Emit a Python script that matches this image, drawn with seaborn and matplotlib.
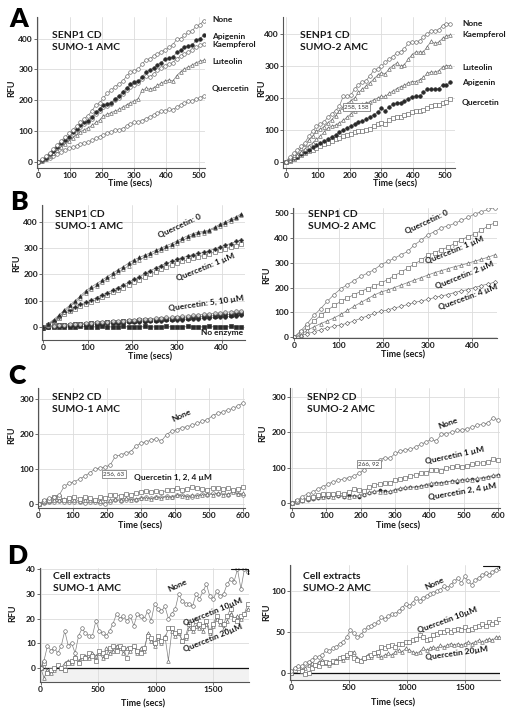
import numpy as np
import pandas as pd
import seaborn as sns
import matplotlib.pyplot as plt

# ---- data ----
t_a = list(range(0, 517, 12))          # panel A time points (secs)
a1_none = [0,8,18,30,42,55,68,80,92,104,116,128,140,150,165,185,190,208,222,232,244,252,262,278,292,296,300,318,330,335,342,350,358,362,372,380,398,400,410,420,425,440,445,458]
a1_apig = [0,6,14,24,36,48,60,70,82,96,108,118,128,134,145,162,172,186,188,192,205,214,228,240,252,258,262,276,290,298,304,315,322,334,336,340,355,362,372,375,378,395,400,410]
a1_kaem = [0,5,13,22,34,46,58,68,78,90,102,112,122,130,140,156,166,178,182,188,200,208,220,232,242,250,256,268,280,276,285,298,306,312,318,322,335,342,350,358,362,372,378,384]
a1_lute = [0,4,10,18,28,38,48,58,68,78,88,98,104,110,118,128,135,150,154,160,165,170,178,185,192,198,205,232,238,236,240,248,256,262,266,262,280,292,302,308,314,322,326,330]
a1_quer = [0,3,8,14,20,26,32,38,44,48,52,58,62,64,70,76,82,88,94,98,102,104,108,116,124,128,130,134,140,146,152,158,164,166,170,168,178,184,190,196,198,204,208,214]

a2_none = [0,15,26,38,48,60,80,95,112,118,125,140,150,160,175,205,205,210,228,242,250,255,270,288,292,300,312,322,330,342,345,355,372,376,376,380,392,402,410,412,415,428,434,434]
a2_kaem = [0,10,20,32,42,55,68,80,95,102,110,122,132,145,158,172,182,192,200,218,228,238,248,260,272,280,276,292,302,310,300,305,322,336,345,345,345,362,378,372,376,388,395,398]
a2_lute = [0,6,14,22,30,40,50,58,70,80,92,105,112,115,122,130,140,150,160,168,180,185,188,195,200,206,205,215,222,230,236,240,248,252,252,258,265,278,282,282,286,298,302,302]
a2_apig = [0,4,10,16,24,30,38,45,52,58,64,70,78,84,92,100,106,112,118,124,128,134,140,148,155,168,160,172,180,185,186,190,198,204,205,206,218,228,228,228,230,242,240,250]
a2_quer = [0,3,8,14,20,26,32,38,44,48,54,58,64,70,74,80,84,88,92,96,96,100,104,112,118,120,118,130,138,140,142,146,150,156,158,160,162,168,176,178,178,184,188,196]

t_b1 = list(range(0, 445, 12))
b1_q0_f = [0,12,28,45,65,82,100,118,138,152,165,178,192,205,218,230,244,256,265,274,282,292,300,310,318,328,338,348,356,362,364,370,380,392,400,412,420,432]
b1_q0_o = [0,10,24,40,58,76,94,112,130,144,156,170,184,196,208,220,234,246,256,266,274,284,292,302,310,320,330,340,350,356,360,366,376,386,394,404,414,426]
b1_q1_f = [0,10,22,38,55,66,76,86,94,102,112,122,130,140,150,160,170,182,190,204,214,224,234,242,250,258,264,270,276,280,284,290,298,304,312,318,326,332]
b1_q1_o = [0,8,20,34,50,60,70,80,88,96,104,114,122,132,140,150,160,170,178,190,200,210,220,228,236,244,250,256,264,268,272,278,286,292,298,304,310,318]
b1_q5_o = [-2,3,5,6,9,10,12,12,15,16,17,19,20,21,23,24,26,27,29,30,32,33,35,36,37,39,40,42,44,46,48,50,52,54,56,57,59,62]
b1_q5_f = [0,2,4,6,7,9,10,11,12,14,15,16,17,18,20,21,22,23,25,26,27,28,29,30,32,33,34,35,37,38,40,41,43,44,46,47,49,52]
b1_q10_f = [-4,0,2,4,5,6,7,8,9,10,11,12,13,14,15,16,17,18,19,20,22,23,24,25,26,27,28,30,31,32,34,35,36,38,39,41,43,45]
b1_noenz = [-3,-1,0,1,0,1,0,2,1,0,1,2,1,0,1,2,1,1,0,2,1,0,1,2,1,0,1,2,1,1,0,2,1,0,1,2,1,0]

t_b2 = list(range(0, 451, 15))
b2_q0 = [0,25,55,88,115,145,172,195,212,228,245,258,272,292,305,318,332,345,372,390,412,425,440,448,458,470,482,496,505,514,522]
b2_q1 = [0,20,42,65,88,108,128,144,158,172,184,196,206,218,232,248,262,278,295,310,330,340,352,362,378,392,405,415,430,448,460]
b2_q2 = [0,10,28,42,55,66,78,92,108,125,140,155,170,182,190,200,210,220,230,240,250,260,268,276,284,290,298,306,314,322,332]
b2_q4 = [0,6,14,22,30,38,44,50,56,66,76,86,96,104,110,118,124,132,140,146,152,160,166,172,180,186,192,200,208,214,222]

t_c = list(range(0, 601, 15))
c1_none = [0,12,18,22,26,52,60,65,72,80,90,100,104,106,112,137,140,146,150,165,174,178,182,186,180,198,208,212,218,220,225,230,236,240,252,258,262,268,272,280,288]
c1_q1 = [0,10,14,22,20,14,18,22,16,20,18,14,20,18,26,28,24,30,28,32,36,38,36,38,34,40,42,48,40,44,50,46,44,42,48,46,44,46,40,44,50]
c1_q2 = [0,6,10,12,14,16,12,14,10,12,14,12,10,14,12,16,14,18,14,16,18,18,16,20,18,22,20,26,24,22,28,24,26,30,28,32,28,30,34,30,32]
c1_q4 = [0,4,8,6,10,8,6,8,6,4,6,8,4,2,8,12,10,14,16,14,18,20,18,22,20,24,22,26,28,24,22,26,30,28,32,30,34,26,38,30,28]

c2_none = [0,8,18,26,30,40,46,54,60,64,68,72,76,84,94,104,112,122,128,126,140,146,150,152,158,166,172,180,175,194,196,200,205,206,210,214,220,222,226,240,236]
c2_q1 = [0,5,10,14,18,22,26,26,26,27,26,30,40,38,34,44,50,54,56,58,64,68,72,76,80,84,86,94,92,90,98,102,104,102,106,110,112,114,116,124,122]
c2_q2 = [0,4,8,12,14,16,18,20,18,22,20,18,20,22,26,30,34,32,30,34,38,42,44,46,44,48,52,56,58,56,60,62,64,66,68,66,70,72,74,78,80]
c2_q4 = [0,2,6,10,12,14,16,18,22,20,18,22,20,18,24,28,32,36,34,32,36,40,42,44,46,48,50,52,56,58,60,62,60,64,66,68,66,70,74,76,78]

t_d = list(range(0, 1801, 30))
d1_none = [0,3,9,7,8,6,9,15,9,10,6,13,16,14,13,13,19,15,14,13,15,18,22,20,21,19,21,17,22,21,20,23,19,26,24,23,25,20,22,24,30,27,26,26,25,30,28,31,34,29,28,31,29,30,34,36,35,40,32,40,39]
d1_q10 = [0,2,-2,-1,0,1,0,-1,2,3,4,2,5,4,6,5,3,7,6,5,8,9,7,9,8,4,8,9,7,6,8,13,12,10,13,11,12,16,16,14,15,11,13,18,16,19,18,17,19,15,18,21,19,18,21,24,20,19,21,22,26]
d1_q20 = [0,-4,-1,-2,-1,1,0,2,3,2,5,3,4,5,4,6,5,6,4,8,6,7,9,8,6,8,7,9,6,8,7,14,11,9,12,10,13,3,15,13,14,11,12,16,15,17,16,15,18,14,17,20,18,16,19,22,20,21,20,22,24]

d2_none = [2,6,8,8,12,14,16,20,19,22,28,27,30,32,36,38,44,52,49,44,46,52,56,58,60,62,68,66,70,72,72,76,80,84,82,86,92,88,92,94,96,98,100,102,106,104,108,112,116,110,118,112,108,114,116,120,122,120,124,126,128]
d2_q10 = [0,4,6,2,-1,0,6,10,8,12,14,12,15,14,18,20,22,24,18,16,15,18,20,22,24,26,32,30,33,34,32,36,36,38,38,40,42,46,44,40,42,46,48,50,50,52,50,52,54,52,56,52,54,56,58,60,58,62,60,62,66]
d2_q20 = [0,6,8,4,6,10,12,10,14,16,12,10,14,16,18,16,20,24,26,18,16,18,22,20,24,22,20,22,24,22,26,28,26,30,28,26,24,26,30,28,30,32,30,34,32,34,36,34,36,34,36,38,36,38,40,38,40,42,40,44,44]

# ---- figure ----
W, H = 512, 717
sns.set_theme(style="whitegrid")
plt.rcParams['font.family'] = ['Lato', 'DejaVu Sans']
fig = plt.figure(figsize=(W / 100, H / 100), dpi=100)


def box(l, t, r, b):
    return [l / W, 1 - b / H, (r - l) / W, (b - t) / H]


def ftxt(x, y, s, **kw):
    kw.setdefault('fontweight', 'bold')
    kw.setdefault('color', '#1a1a1a')
    fig.text(x / W, 1 - y / H, s, **kw)


def series(ax, t, y, marker, filled=False, ms=2.6, fc=None):
    sns.lineplot(x=t, y=y, ax=ax, estimator=None, sort=False, color='#808080',
                 linewidth=0.5, marker=marker, markersize=ms,
                 markerfacecolor=fc or ('#2a2a2a' if filled else 'white'),
                 markeredgecolor='#2a2a2a' if filled else '#606060',
                 markeredgewidth=0.45, legend=False)


def style(ax, xlim, ylim, xt, yt):
    ax.set_xlim(xlim)
    ax.set_ylim(ylim)
    ax.set_xticks(xt)
    ax.set_yticks(yt)
    ax.set_facecolor('white')
    ax.grid(True, color='#dcdcdc', lw=0.6)
    for s in ['top', 'right']:
        ax.spines[s].set_visible(False)
    for s in ['left', 'bottom']:
        ax.spines[s].set_color('#555555')
        ax.spines[s].set_linewidth(0.8)
    ax.tick_params(labelsize=6, length=2, width=0.6, pad=1, bottom=True, left=True,
                   labelcolor='#1a1a1a', color='#555555')
    plt.setp(ax.get_xticklabels() + ax.get_yticklabels(), fontweight='bold')
    ax.set_xlabel('')
    ax.set_ylabel('')


title_kw = dict(fontsize=7.5, va='top', ha='left', linespacing=1.45)
lab_kw = dict(fontsize=6, va='center', ha='left')
rot_kw = dict(fontsize=6, va='center', ha='center', rotation_mode='anchor')
tip_kw = dict(fontsize=4.5, fontweight='normal', ha='center', va='center', color='#333333',
              bbox=dict(boxstyle='square,pad=0.2', fc='white', ec='#666666', lw=0.5))

# ---- A left ----
ax = fig.add_axes(box(37, 17, 205, 168))
series(ax, t_a, a1_quer, 'o')
series(ax, t_a, a1_lute, '^')
series(ax, t_a, a1_kaem, 'o')
series(ax, t_a, a1_apig, 'o', filled=True)
series(ax, t_a, a1_none, 'o')
style(ax, (-3, 520), (-20, 470), range(0, 501, 100), range(0, 401, 100))
for y, s in [(20, 'None'), (36, 'Apigenin'), (45, 'Kaempferol'), (62, 'Luteolin'), (89, 'Quercetin')]:
    ftxt(212, y, s, **lab_kw)
ftxt(52, 31, 'SENP1 CD\nSUMO-1 AMC', **title_kw)

# ---- A right ----
ax = fig.add_axes(box(283, 17, 455, 168))
series(ax, t_a, a2_quer, 's')
series(ax, t_a, a2_apig, 'o', filled=True)
series(ax, t_a, a2_lute, '^')
series(ax, t_a, a2_kaem, '^')
series(ax, t_a, a2_none, 'o')
style(ax, (-9, 531), (-20, 455), range(0, 501, 100), range(0, 401, 100))
for y, s in [(24, 'None'), (34, 'Kaempferol'), (67, 'Luteolin'), (83, 'Apigenin'), (102, 'Quercetin')]:
    ftxt(462, y, s, **lab_kw)
ftxt(300, 31, 'SENP1 CD\nSUMO-2 AMC', **title_kw)
ftxt(356, 107, '258, 158', **tip_kw)

# ---- B left ----
ax = fig.add_axes(box(42, 205, 245, 340))
series(ax, t_b1, b1_noenz, 's', filled=True)
series(ax, t_b1, b1_q10_f, 'o', filled=True)
series(ax, t_b1, b1_q5_f, 's', filled=True)
series(ax, t_b1, b1_q5_o, 'o', fc='#d0d0d0')
series(ax, t_b1, b1_q1_o, 's')
series(ax, t_b1, b1_q1_f, 'P', filled=True)
series(ax, t_b1, b1_q0_o, '^')
series(ax, t_b1, b1_q0_f, '^', filled=True)
style(ax, (-2, 452), (-50, 465), range(0, 401, 100), range(0, 401, 100))
ftxt(55, 210, 'SENP1 CD\nSUMO-1 AMC', **title_kw)
ftxt(180, 226, 'Quercetin: 0', rotation=25, **rot_kw)
ftxt(206, 267, 'Quercetin: 1 µM', rotation=22, **rot_kw)
ftxt(206, 303, 'Quercetin: 5, 10 µM', rotation=8, **rot_kw)
ftxt(222, 333, 'No enzyme', rotation=0, **rot_kw)

# ---- B right ----
ax = fig.add_axes(box(293, 208, 497, 338))
series(ax, t_b2, b2_q4, 'D', ms=2.2)
series(ax, t_b2, b2_q2, '^')
series(ax, t_b2, b2_q1, 's')
series(ax, t_b2, b2_q0, 'o')
style(ax, (-2, 455), (-3, 520), range(0, 401, 100), range(0, 501, 100))
ftxt(308, 210, 'SENP1 CD\nSUMO-2 AMC', **title_kw)
ftxt(427, 222, 'Quercetin: 0', rotation=25, **rot_kw)
ftxt(455, 250, 'Quercetin: 1 µM', rotation=22, **rot_kw)
ftxt(465, 275, 'Quercetin: 2 µM', rotation=22, **rot_kw)
ftxt(468, 297, 'Quercetin: 4 µM', rotation=20, **rot_kw)

# ---- C left ----
ax = fig.add_axes(box(38, 388, 245, 508))
series(ax, t_c, c1_q4, 'o')
series(ax, t_c, c1_q2, '^')
series(ax, t_c, c1_q1, 's')
series(ax, t_c, c1_none, 'o')
style(ax, (-2, 605), (-10, 330), range(0, 601, 100), range(0, 301, 100))
ftxt(52, 393, 'SENP2 CD\nSUMO-1 AMC', **title_kw)
ftxt(182, 415, 'None', rotation=25, **rot_kw)
ftxt(173, 477, 'Quercetin 1, 2, 4 µM', rotation=0, **rot_kw)
ftxt(114, 474, '256, 63', **tip_kw)

# ---- C right ----
ax = fig.add_axes(box(290, 388, 500, 508))
series(ax, t_c, c2_q4, 'o', filled=True, ms=2.2)
series(ax, t_c, c2_q2, '^')
series(ax, t_c, c2_q1, 's')
series(ax, t_c, c2_none, 'o')
style(ax, (-6, 606), (-14, 325), range(0, 601, 100), range(0, 301, 100))
ftxt(307, 393, 'SENP2 CD\nSUMO-2 AMC', **title_kw)
ftxt(448, 423, 'None', rotation=20, **rot_kw)
ftxt(455, 455, 'Quercetin 1 µM', rotation=12, **rot_kw)
ftxt(462, 492, 'Quercetin 2, 4 µM', rotation=10, **rot_kw)
ftxt(369, 464, '266, 92', **tip_kw)

# ---- D left ----
ax = fig.add_axes(box(40, 568, 249, 682))
ax.axhspan(-6, 0, color='#f2f2f2', zorder=0)
ax.axhline(0, color='#111111', lw=0.9)
series(ax, t_d, d1_q20, '^')
series(ax, t_d, d1_q10, 's')
series(ax, t_d, d1_none, 'o')
ax.plot([1650, 1800, 1800], [40, 40, 38], color='#111111', lw=0.8)
style(ax, (-5, 1810), (-5.7, 40.5), [0, 500, 1000, 1500], range(0, 41, 10))
ftxt(53, 572, 'Cell extracts\nSUMO-1 AMC', **title_kw)
ftxt(178, 585, 'None', rotation=25, **rot_kw)
ftxt(213, 612, 'Quercetin 10µM', rotation=22, **rot_kw)
ftxt(213, 638, 'Quercetin 20µM', rotation=22, **rot_kw)

# ---- D right ----
ax = fig.add_axes(box(290, 565, 500, 680))
ax.axhspan(-9, 0, color='#f2f2f2', zorder=0)
ax.axhline(0, color='#111111', lw=0.9)
series(ax, t_d, d2_q20, '^')
series(ax, t_d, d2_q10, 's')
series(ax, t_d, d2_none, 'o')
ax.plot([1660, 1800, 1800], [131, 131, 128], color='#111111', lw=0.8)
style(ax, (-10, 1805), (-8.5, 132), [0, 500, 1000, 1500], [0, 50, 100])
ftxt(303, 572, 'Cell extracts\nSUMO-2 AMC', **title_kw)
ftxt(435, 583, 'None', rotation=25, **rot_kw)
ftxt(447, 620, 'Quercetin 10µM', rotation=20, **rot_kw)
ftxt(457, 653, 'Quercetin 20µM', rotation=8, **rot_kw)

# ---- axis labels and panel letters ----
ax_kw = dict(fontsize=6.5, ha='center', va='center')
for x, y in [(130, 184), (395, 184), (150, 357), (403, 355), (140, 526), (398, 526), (143, 704), (393, 703)]:
    ftxt(x, y, 'Time (secs)', **ax_kw)
for x, y in [(12, 88), (262, 88), (17, 263), (267, 275), (12, 435), (263, 433), (13, 613), (267, 612)]:
    ftxt(x, y, 'RFU', rotation=90, **ax_kw)
for x, y, s in [(19, 19, 'A'), (19, 202, 'B'), (17, 376, 'C'), (17, 556, 'D')]:
    ftxt(x, y, s, fontsize=19, fontweight='heavy', ha='center', va='center', color='black')

fig.savefig('out.png', dpi=100)
